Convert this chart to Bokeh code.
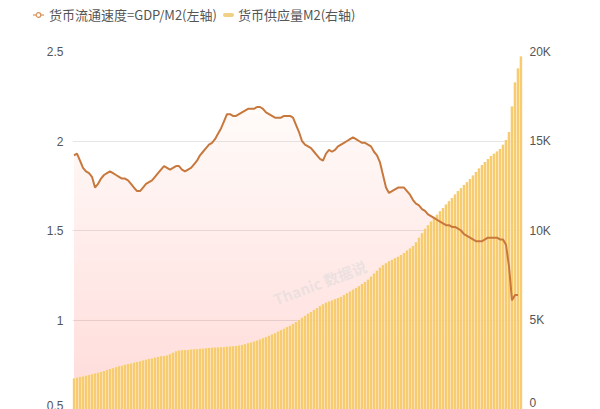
import numpy as np
from bokeh.plotting import figure
from bokeh.layouts import column
from bokeh.models import (Range1d, LinearAxis, FixedTicker, CustomJSTickFormatter,
                          Label, Grid, Div)
from bokeh.embed import file_html
from bokeh.resources import INLINE

# Money velocity GDP/M2 (left axis)
velocity = [
    1.92, 1.93, 1.89, 1.85, 1.83, 1.82, 1.80, 1.74, 1.76, 1.79,
    1.81, 1.82, 1.83, 1.82, 1.81, 1.80, 1.79, 1.79, 1.78, 1.76,
    1.74, 1.72, 1.72, 1.74, 1.76, 1.77, 1.78, 1.80, 1.82, 1.84,
    1.86, 1.85, 1.84, 1.85, 1.86, 1.86, 1.84, 1.83, 1.84, 1.85,
    1.87, 1.89, 1.92, 1.94, 1.96, 1.98, 1.99, 2.01, 2.04, 2.07,
    2.11, 2.15, 2.15, 2.14, 2.14, 2.15, 2.16, 2.17, 2.18, 2.18,
    2.18, 2.19, 2.19, 2.18, 2.16, 2.15, 2.14, 2.13, 2.13, 2.13,
    2.14, 2.14, 2.14, 2.13, 2.09, 2.05, 2.00, 1.98, 1.97, 1.96,
    1.94, 1.92, 1.90, 1.89, 1.93, 1.95, 1.94, 1.95, 1.97, 1.98,
    1.99, 2.00, 2.01, 2.02, 2.01, 2.00, 1.99, 1.99, 1.98, 1.97,
    1.94, 1.92, 1.88, 1.81, 1.74, 1.71, 1.72, 1.73, 1.74, 1.74,
    1.74, 1.72, 1.70, 1.67, 1.65, 1.64, 1.62, 1.61, 1.59, 1.58,
    1.57, 1.56, 1.55, 1.54, 1.53, 1.53, 1.52, 1.52, 1.51, 1.50,
    1.48, 1.47, 1.46, 1.45, 1.44, 1.44, 1.44, 1.45, 1.46, 1.46,
    1.46, 1.46, 1.45, 1.45, 1.42, 1.30, 1.11, 1.14, 1.14,
]

# Money supply M2, thousands (right axis)
m2 = [
    1.73, 1.77, 1.81, 1.85, 1.89, 1.93, 1.97, 2.01, 2.05, 2.09,
    2.15, 2.20, 2.26, 2.31, 2.36, 2.41, 2.45, 2.50, 2.54, 2.57,
    2.61, 2.65, 2.70, 2.74, 2.78, 2.82, 2.85, 2.89, 2.93, 2.97,
    2.99, 3.02, 3.08, 3.17, 3.25, 3.30, 3.31, 3.32, 3.33, 3.35,
    3.36, 3.37, 3.39, 3.40, 3.42, 3.44, 3.45, 3.46, 3.47, 3.48,
    3.48, 3.50, 3.52, 3.54, 3.55, 3.57, 3.60, 3.65, 3.70, 3.75,
    3.80, 3.85, 3.91, 3.98, 4.04, 4.12, 4.19, 4.26, 4.35, 4.43,
    4.51, 4.60, 4.68, 4.78, 4.89, 5.00, 5.12, 5.23, 5.35, 5.45,
    5.56, 5.66, 5.77, 5.88, 5.97, 6.03, 6.09, 6.16, 6.23, 6.29,
    6.39, 6.49, 6.59, 6.69, 6.79, 6.89, 7.01, 7.12, 7.25, 7.42,
    7.59, 7.75, 7.92, 8.06, 8.17, 8.28, 8.36, 8.45, 8.53, 8.63,
    8.75, 8.88, 9.00, 9.13, 9.35, 9.60, 9.85, 10.10, 10.30, 10.50,
    10.69, 10.88, 11.07, 11.26, 11.45, 11.63, 11.82, 12.01, 12.20, 12.36,
    12.54, 12.70, 12.88, 13.07, 13.27, 13.47, 13.66, 13.83, 13.99, 14.16,
    14.29, 14.42, 14.56, 14.79, 15.06, 15.50, 16.93, 18.27, 19.05, 19.72,
]

left_ticks = [0.5, 1, 1.5, 2, 2.5]
right_ticks = [0, 5, 10, 15, 20]
legend_labels = ["货币流通速度=GDP/M2(左轴)", "货币供应量M2(右轴)"]
watermark = "Thanic 数据说"

idx_v = list(range(len(velocity)))
idx_m = list(range(len(m2)))
vel = np.array(velocity)

line_col = "#c8783c"

# ---- legend header (HTML) ----
icon_line = ('<svg width="11" height="14" style="vertical-align:middle;">'
             '<line x1="0" y1="7" x2="11" y2="7" stroke="#d9925a" stroke-width="1.2"/>'
             '<circle cx="5.5" cy="7" r="2.3" fill="white" stroke="#d9925a" stroke-width="1.2"/></svg>')
icon_bar = ('<svg width="11" height="14" style="vertical-align:middle;">'
            '<line x1="2" y1="7" x2="9" y2="7" stroke="#f0d083" stroke-width="4" '
            'stroke-linecap="round"/></svg>')
item_style = "display:inline-flex;align-items:center;white-space:nowrap;"
hdr_html = (
    '<div style="padding:7px 0 0 33px;height:36px;white-space:nowrap;'
    "font-family:'Noto Sans CJK SC',sans-serif;font-size:13px;line-height:16px;color:#555555;\">"
    f'<span style="{item_style}">{icon_line}<span style="margin-left:5px;">{legend_labels[0]}</span></span>'
    f'<span style="{item_style}margin-left:6px;">{icon_bar}<span style="margin-left:4px;">{legend_labels[1]}</span></span>'
    '</div>'
)
hdr = Div(text=hdr_html, width=600, height=43, margin=0)

# ---- main chart ----
p = figure(width=600, height=366, output_backend="svg", toolbar_location=None,
           x_range=Range1d(-0.5, len(m2) - 0.5), y_range=Range1d(0.5, 2.5),
           x_axis_type=None, y_axis_type=None,
           min_border_left=72, min_border_right=78, min_border_top=8, min_border_bottom=0)
p.outline_line_color = None
p.background_fill_color = "white"
p.extra_y_ranges = {"m2": Range1d(0, 20)}

label_font = "Liberation Sans"
left_axis = LinearAxis(ticker=FixedTicker(ticks=left_ticks),
                       formatter=CustomJSTickFormatter(code="return tick.toString();"))
right_axis = LinearAxis(y_range_name="m2", ticker=FixedTicker(ticks=right_ticks),
                        formatter=CustomJSTickFormatter(code="return tick == 0 ? '0' : tick + 'K';"))
for ax, so in ((left_axis, 9), (right_axis, 7)):
    ax.axis_line_color = None
    ax.major_tick_line_color = None
    ax.minor_tick_line_color = None
    ax.major_tick_out = 0
    ax.major_tick_in = 0
    ax.major_label_standoff = so
    ax.major_label_text_font = label_font
    ax.major_label_text_font_size = "12px"
    ax.major_label_text_color = "#555555"
p.add_layout(left_axis, "left")
p.add_layout(right_axis, "right")

p.add_layout(Grid(dimension=1, ticker=FixedTicker(ticks=left_ticks),
                  grid_line_color="#e6e6e6", grid_line_width=1))

# gradient area under velocity line (stacked translucent layers)
fill_col = "#f6bb96"
p.varea(x=idx_v, y1=0.3, y2=vel, fill_color=fill_col, fill_alpha=0.05)
for lev in np.linspace(0.6, 2.2, 32):
    p.varea(x=idx_v, y1=0.3, y2=np.minimum(vel, lev), fill_color=fill_col, fill_alpha=0.006)

# M2 bars
p.vbar(x=idx_m, top=m2, bottom=0, width=1.0, y_range_name="m2",
       fill_color="#fbe3b0", line_color=None)
p.vbar(x=idx_m, top=m2, bottom=0, width=0.7, y_range_name="m2",
       fill_color="#f7cb70", line_color=None)

# velocity line
p.line(idx_v, velocity, line_color=line_col, line_width=2)

wm = Label(x=82, y=1.21, text=watermark, angle=0.36, text_align="center",
           text_baseline="middle", text_font="Noto Sans CJK SC", text_font_size="15px",
           text_font_style="bold", text_color="#d9d9d9", text_alpha=0.5)
p.add_layout(wm)

layout = column(hdr, p, spacing=0)
open("out.html", "w").write(file_html(layout, INLINE))
